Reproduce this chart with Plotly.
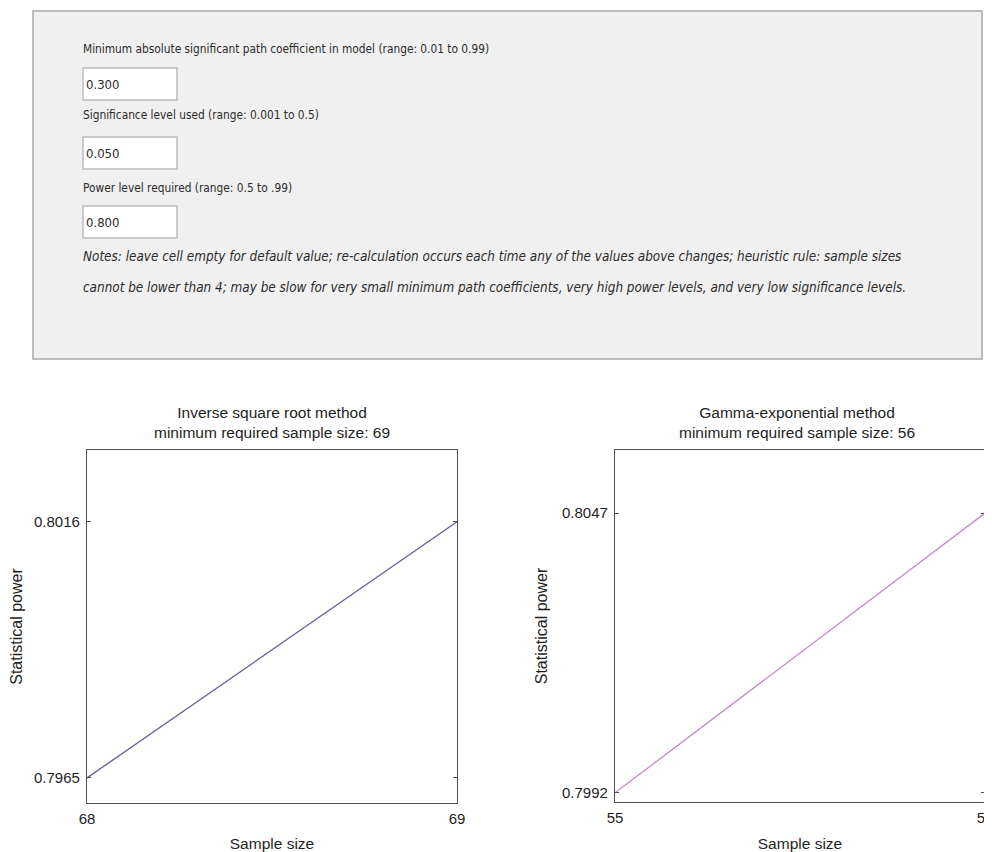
import plotly.graph_objects as go

# ---------------- data ----------------
sizes_isr = [68, 69]
power_isr = [0.7965, 0.8016]
sizes_ge = [55, 56]
power_ge = [0.7992, 0.8047]

title_isr = "Inverse square root method<br>minimum required sample size: 69"
title_ge = "Gamma-exponential method<br>minimum required sample size: 56"

form_labels = [
    "Minimum absolute significant path coefficient in model (range: 0.01 to 0.99)",
    "Significance level used (range: 0.001 to 0.5)",
    "Power level required (range: 0.5 to .99)",
]
form_values = ["0.300", "0.050", "0.800"]
notes_lines = [
    "Notes: leave cell empty for default value; re-calculation occurs each time any of the values above changes; heuristic rule: sample sizes",
    "cannot be lower than 4; may be slow for very small minimum path coefficients, very high power levels, and very low significance levels.",
]

# ---------------- geometry helpers ----------------
OFF = 8  # page body margin
W, H = 992 - OFF, 852 - OFF


def px(x):
    return (x - OFF) / W


def py(y):
    return 1 - (y - OFF) / H


fig = go.Figure()
fig.add_trace(go.Scatter(x=sizes_isr, y=power_isr, mode="lines",
                         line=dict(color="#5f5f96", width=1.3),
                         xaxis="x", yaxis="y", showlegend=False))
fig.add_trace(go.Scatter(x=sizes_ge, y=power_ge, mode="lines",
                         line=dict(color="#c08ac4", width=1.3),
                         xaxis="x2", yaxis="y2", showlegend=False))

tickfont = dict(family="Liberation Sans, Arial, sans-serif", size=15, color="#1e1e1e")
titlefont = dict(family="Liberation Sans, Arial, sans-serif", size=15.5, color="#1e1e1e")
ytitlefont = dict(family="Liberation Sans, Arial, sans-serif", size=16, color="#1e1e1e")

common_ax = dict(showline=True, linecolor="#505050", linewidth=1.3, mirror="ticks",
                 ticks="inside", ticklen=4, tickcolor="#505050", tickwidth=1,
                 showgrid=False, zeroline=False, tickfont=tickfont, automargin=False,
                 ticklabeloverflow="allow")

fig.update_layout(
    template="none",
    width=W, height=H,
    margin=dict(l=0, r=0, t=0, b=0, autoexpand=False),
    paper_bgcolor="white", plot_bgcolor="white",
    xaxis=dict(domain=[px(87), px(457)], range=[sizes_isr[0], sizes_isr[-1]],
               tickvals=sizes_isr, ticktext=[str(v) for v in sizes_isr],
               title=dict(text="Sample size", font=titlefont, standoff=12),
               ticklabelstandoff=2, anchor="y", **common_ax),
    yaxis=dict(domain=[py(803), py(450)], range=[0.79600, 0.80303],
               tickvals=power_isr, ticktext=[f"{v:.4f}" for v in power_isr],
               title=dict(text="Statistical power", font=ytitlefont, standoff=8),
               ticklabelstandoff=3, anchor="x", **common_ax),
    xaxis2=dict(domain=[px(615), px(985)], range=[sizes_ge[0], sizes_ge[-1]],
                tickvals=sizes_ge, ticktext=[str(v) for v in sizes_ge],
                title=dict(text="Sample size", font=titlefont, standoff=12),
                ticklabelstandoff=2, anchor="y2", **common_ax),
    yaxis2=dict(domain=[py(802), py(450)], range=[0.79902, 0.80594],
                tickvals=power_ge, ticktext=[f"{v:.4f}" for v in power_ge],
                title=dict(text="Statistical power", font=ytitlefont, standoff=10),
                ticklabelstandoff=3, anchor="x2", **common_ax),
)

shapes = []
annotations = []

# gray form panel
shapes.append(dict(type="rect", xref="paper", yref="paper",
                   x0=px(33), x1=px(982), y0=py(359), y1=py(11),
                   fillcolor="#f0f0f0", line=dict(color="#a9a9a9", width=1.5), layer="below"))

fam = "Liberation Sans Narrow, DejaVu Sans Condensed, Arial Narrow, sans-serif"
labelfont = dict(family=fam, size=11.8, color="#2b2b2b")
valuefont = dict(family=fam, size=13, color="#2b2b2b")
notesfont = dict(family=fam, size=13.4, color="#2b2b2b")

label_y = [49, 115, 188]
box_y = [(68, 100), (137, 169), (206, 238)]
for lab, ly in zip(form_labels, label_y):
    annotations.append(dict(text=lab, xref="paper", yref="paper", x=px(81), y=py(ly),
                            xanchor="left", yanchor="middle", showarrow=False, font=labelfont))
for val, (y0, y1) in zip(form_values, box_y):
    shapes.append(dict(type="rect", xref="paper", yref="paper",
                       x0=px(83), x1=px(177), y0=py(y1), y1=py(y0),
                       fillcolor="white", line=dict(color="#bcbcbc", width=1.5)))
    annotations.append(dict(text=val, xref="paper", yref="paper", x=px(84), y=py((y0 + y1) / 2),
                            xanchor="left", yanchor="middle", showarrow=False, font=valuefont))

for line, ly in zip(notes_lines, [257, 287]):
    annotations.append(dict(text=f"<i>{line}</i>", xref="paper", yref="paper", x=px(81), y=py(ly),
                            xanchor="left", yanchor="middle", showarrow=False, font=notesfont))

# subplot titles
annotations.append(dict(text=title_isr, xref="paper", yref="paper", x=px(272), y=py(422),
                        xanchor="center", yanchor="middle", showarrow=False, font=titlefont))
annotations.append(dict(text=title_ge, xref="paper", yref="paper", x=px(797), y=py(422),
                        xanchor="center", yanchor="middle", showarrow=False, font=titlefont))

fig.update_layout(shapes=shapes, annotations=annotations)

fig.write_html("out.html")
